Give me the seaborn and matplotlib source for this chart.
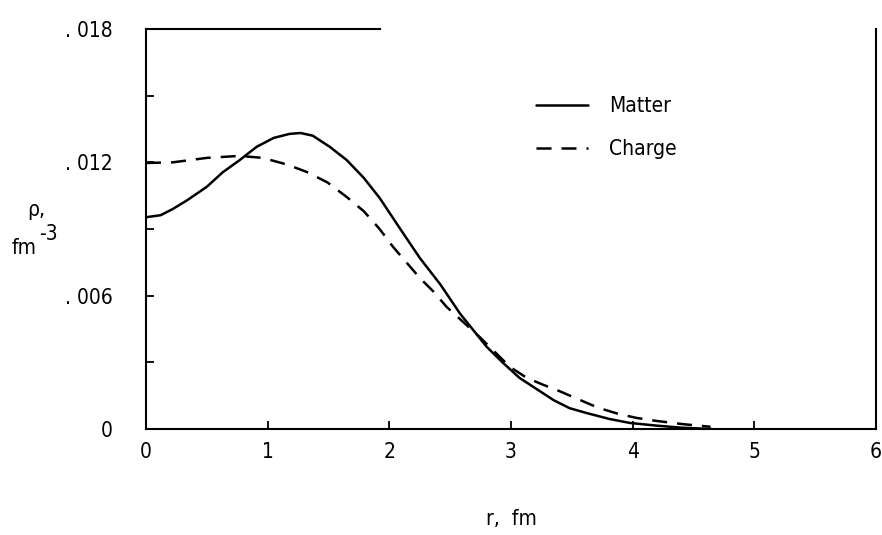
import numpy as np
import pandas as pd
import matplotlib
matplotlib.use("Agg")
import matplotlib.pyplot as plt
import seaborn as sns

# radius r (fm) and densities
r_matter = [0.0, 0.12, 0.22, 0.34, 0.50, 0.63, 0.77, 0.91, 1.05, 1.18, 1.27,
            1.37, 1.51, 1.65, 1.79, 1.92, 2.09, 2.25, 2.42, 2.58, 2.80, 2.93,
            3.07, 3.21, 3.35, 3.48, 3.62, 3.81, 3.98, 4.20, 4.40, 4.65]
rho_matter = [0.00953, 0.00962, 0.0099, 0.0103, 0.0109, 0.01155, 0.0121, 0.0127,
              0.0131, 0.01328, 0.01332, 0.0132, 0.0127, 0.0121, 0.0113, 0.0104,
              0.0090, 0.0077, 0.0065, 0.0052, 0.0037, 0.0030, 0.0023, 0.0018,
              0.0013, 0.00094, 0.00072, 0.00045, 0.00027, 0.00015, 0.00006, 0.0]

r_charge = [0.0, 0.22, 0.50, 0.77, 0.96, 1.16, 1.32, 1.49, 1.65, 1.79, 1.92,
            2.03, 2.14, 2.25, 2.36, 2.47, 2.61, 2.75, 2.99, 3.13, 3.26, 3.40,
            3.57, 3.71, 3.87, 4.03, 4.20, 4.41, 4.64]
rho_charge = [0.01197, 0.0120, 0.0122, 0.01229, 0.0122, 0.0119, 0.01157, 0.0111,
              0.01044, 0.0098, 0.0090, 0.0082, 0.0075, 0.0068, 0.0062, 0.0055,
              0.0048, 0.0041, 0.0028, 0.0023, 0.0020, 0.0017, 0.0013, 0.00097,
              0.0007, 0.0005, 0.00036, 0.00022, 0.0001]

x_ticks = [0, 1, 2, 3, 4, 5, 6]
y_ticks = [0, 0.006, 0.012, 0.018]
y_tick_labels = ["0", ". 006", ". 012", ". 018"]
y_minor = [0.003, 0.009, 0.015]

df = pd.concat([
    pd.DataFrame({"r": r_matter, "rho": rho_matter, "kind": "Matter"}),
    pd.DataFrame({"r": r_charge, "rho": rho_charge, "kind": "Charge"}),
])

sns.set_style("white")
plt.rcParams["font.family"] = ["DejaVu Sans"]
plt.rcParams["font.stretch"] = "condensed"
plt.rcParams["text.color"] = "black"
plt.rcParams["axes.labelcolor"] = "black"
plt.rcParams["xtick.color"] = "black"
plt.rcParams["ytick.color"] = "black"

fig = plt.figure(figsize=(8.82, 5.35), dpi=100)
ax = fig.add_axes([146 / 882, 1 - 429 / 535, 730 / 882, 400 / 535])

sns.lineplot(data=df, x="r", y="rho", style="kind", color="black",
             dashes={"Matter": "", "Charge": (6, 4)}, linewidth=1.8,
             sort=False, ax=ax)

ax.set_xlim(0, 6)
ax.set_ylim(0, 0.018)
ax.set_xticks(x_ticks)
ax.set_xticklabels([str(t) for t in x_ticks])
ax.set_yticks(y_ticks)
ax.set_yticklabels(y_tick_labels)
ax.set_yticks(y_minor, minor=True)
ax.tick_params(axis="both", which="both", direction="in", length=6, width=1.3,
               color="black", labelsize=15, bottom=True, left=True)
ax.tick_params(axis="y", pad=24)
ax.tick_params(axis="x", pad=9)

for side in ["left", "bottom", "right", "top"]:
    ax.spines[side].set_color("black")
    ax.spines[side].set_linewidth(1.5)
    ax.spines[side].set_visible(True)
ax.spines["top"].set_bounds(0, 1.92)

ax.set_xlabel("r,  fm", fontsize=15, labelpad=34)
ax.set_ylabel("")
fig.text(36 / 882, 1 - 210 / 535, "ρ,", fontsize=15, ha="center", va="center")
fig.text(24 / 882, 1 - 248 / 535, "fm", fontsize=15, ha="center", va="center")
fig.text(48 / 882, 1 - 234 / 535, "-3", fontsize=15, ha="center", va="center")

handles, labels = ax.get_legend_handles_labels()
ax.legend(handles, labels, loc="upper left", bbox_to_anchor=(0.534, 0.832),
          frameon=False, fontsize=15, handlelength=2.5, handletextpad=1.0,
          labelspacing=1.1, borderpad=0, borderaxespad=0)

fig.savefig("out.png", dpi=100, facecolor="white")
